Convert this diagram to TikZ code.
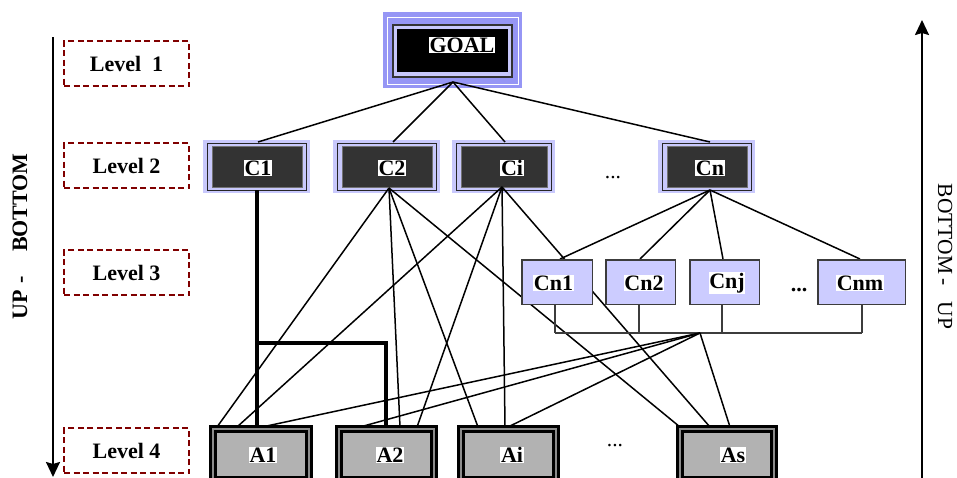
\documentclass[tikz,border=0pt]{standalone}
\usepackage{fontspec}
\setmainfont{Liberation Serif}
\usetikzlibrary{arrows.meta}

\definecolor{goalpurple}{RGB}{150,150,245}
\definecolor{lavsoft}{RGB}{200,200,252}
\definecolor{lavfill}{RGB}{204,204,255}
\definecolor{darkfill}{RGB}{51,51,51}
\definecolor{altgrey}{RGB}{178,178,178}
\definecolor{gapgrey}{RGB}{140,140,140}
\definecolor{levelred}{RGB}{128,0,0}
\definecolor{busgrey}{RGB}{60,60,60}

\tikzset{
  txt/.style={font=\fontsize{22}{26}\selectfont\bfseries, inner sep=0.6pt},
  plain/.style={font=\fontsize{21.5}{26}\selectfont, inner sep=0pt},
  hilite/.style={txt, fill=white},
  levelbox/.style={txt, draw=levelred, line width=2pt, dash pattern=on 6pt off 3.5pt,
    minimum width=125pt, minimum height=45pt, inner sep=0pt},
  link/.style={line width=1.5pt},
  heavy/.style={line width=3.2pt},
  buswire/.style={draw=busgrey, line width=1.4pt},
  sidearrow/.style={line width=2pt, -{Stealth[length=15pt,width=14pt,inset=2pt]}},
  goalbox/.style={inner sep=0pt, outer sep=0pt, minimum width=139pt, minimum height=76pt,
    fill=goalpurple,
    path picture={
      \draw[white, line width=1pt]
        ([xshift=4pt,yshift=-5pt]path picture bounding box.north west) rectangle
        ([xshift=-4pt,yshift=4pt]path picture bounding box.south east);
      \draw[fill=lavsoft, draw=black!80, line width=1.2pt]
        ([xshift=10pt,yshift=-13pt]path picture bounding box.north west) rectangle
        ([xshift=-10pt,yshift=11pt]path picture bounding box.south east);
      \fill[black]
        ([xshift=14pt,yshift=-17pt]path picture bounding box.north west) rectangle
        ([xshift=-14pt,yshift=16pt]path picture bounding box.south east);
    }},
  critbox/.style={inner sep=0pt, outer sep=0pt, minimum height=53pt, fill=lavsoft,
    path picture={
      \draw[black!85, line width=0.8pt]
        ([xshift=4pt,yshift=-3pt]path picture bounding box.north west) rectangle
        ([xshift=-4pt,yshift=3pt]path picture bounding box.south east);
      \draw[fill=darkfill, draw=black!55, line width=0.8pt]
        ([xshift=9pt,yshift=-6pt]path picture bounding box.north west) rectangle
        ([xshift=-8pt,yshift=6pt]path picture bounding box.south east);
    }},
  subbox/.style={inner sep=0pt, outer sep=0pt, minimum height=44.5pt, fill=lavfill,
    draw=busgrey, line width=1.5pt},
  altbox/.style={inner sep=0pt, outer sep=0pt, minimum height=56pt, fill=gapgrey,
    draw=black, line width=3pt,
    path picture={
      \draw[fill=altgrey, line width=3pt]
        ([xshift=5pt,yshift=-5pt]path picture bounding box.north west) rectangle
        ([xshift=-5pt,yshift=5pt]path picture bounding box.south east);
    }},
}

\begin{document}
\begin{tikzpicture}[x=1pt,y=-1pt]
\useasboundingbox (0,0) rectangle (957,477);

% ---- level labels on the left
\node[levelbox] (L1) at (126.5,63.5) {Level~~1};
\node[levelbox] (L2) at (126.5,165.5) {Level 2};
\node[levelbox] (L3) at (126.5,272.5) {Level 3};
\node[levelbox] (L4) at (126.5,450.5) {Level 4};

% ---- direction arrows
\coordinate (downTop) at (53,37);
\coordinate (downEnd) at (53,477);
\draw[sidearrow] (downTop) -- (downEnd);
\node[txt, rotate=90, anchor=base, inner sep=0pt] (topdown) at (27,236.5)
  {UP\hspace{7pt}-\hspace{24pt}BOTTOM};

\coordinate (upStart) at (922,480);
\coordinate (upTop) at (922,20);
\draw[sidearrow] (upStart) -- (upTop);
\node[plain, rotate=-90, anchor=base] (bottomup) at (938,256.5)
  {BOTTOM\hspace{4pt}-\hspace{16pt}UP};

% ---- goal and criteria
\node[goalbox] (goal) at (452.5,50) {};
\node[critbox, minimum width=107pt] (C1) at (256.5,166.5) {};
\node[critbox, minimum width=107pt] (C2) at (386.5,166.5) {};
\node[critbox, minimum width=103pt] (Ci) at (503.5,166.5) {};
\node[critbox, minimum width=97pt]  (Cn) at (706.5,166.5) {};

% attachment points
\coordinate (goalB) at (453,82);
\coordinate (C1top) at (258,142);
\coordinate (C2top) at (393,142);
\coordinate (Citop) at (505,142);
\coordinate (Cntop) at (710,142);
\coordinate (C1bot) at (257,190);
\coordinate (C2bot) at (389,188);
\coordinate (Cibot) at (502,187);
\coordinate (Cnbot) at (710,190);

\coordinate (n1top) at (560,259);
\coordinate (n2top) at (640,259);
\coordinate (njtop) at (723,259);
\coordinate (nmtop) at (860,259);
\coordinate (n1bot) at (555,305);
\coordinate (n2bot) at (639,305);
\coordinate (njbot) at (722,305);
\coordinate (nmbot) at (862,305);
\coordinate (n1bus) at (555,333);
\coordinate (n2bus) at (639,333);
\coordinate (njbus) at (722,333);
\coordinate (nmbus) at (862,333);
\coordinate (busTap) at (700,333);

\coordinate (A1fromC2) at (217,427);
\coordinate (A1fromCi) at (237,427);
\coordinate (A1fromC1) at (257,427);
\coordinate (A1fromBus) at (262,427);
\coordinate (A2fromBus) at (360,427);
\coordinate (A2fromC1) at (386,427);
\coordinate (A2fromC2) at (400,427);
\coordinate (A2fromCi) at (417,427);
\coordinate (AifromC2) at (478,427);
\coordinate (AifromCi) at (505,427);
\coordinate (AifromBus) at (508,427);
\coordinate (AsfromC2) at (680,427);
\coordinate (AsfromCi) at (710,427);
\coordinate (AsfromBus) at (730,427);
\coordinate (c1split) at (257,343);
\coordinate (c1corner) at (386,343);

% goal to criteria
\foreach \t in {C1top,C2top,Citop,Cntop} \draw[link] (goalB) -- (\t);
% Cn to its sub-criteria
\foreach \t in {n1top,n2top,njtop,nmtop} \draw[link] (Cnbot) -- (\t);
% C2 and Ci to alternatives
\foreach \t in {A1fromC2,A2fromC2,AifromC2,AsfromC2} \draw[link] (C2bot) -- (\t);
\foreach \t in {A1fromCi,A2fromCi,AifromCi,AsfromCi} \draw[link] (Cibot) -- (\t);
% sub-criteria bus to alternatives
\draw[buswire] (n1bot) -- (n1bus);
\draw[buswire] (n2bot) -- (n2bus);
\draw[buswire] (njbot) -- (njbus);
\draw[buswire] (nmbot) -- (nmbus);
\draw[buswire] (n1bus) -- (nmbus);
\foreach \t in {A1fromBus,A2fromBus,AifromBus,AsfromBus} \draw[link] (busTap) -- (\t);
% C1 heavy links
\draw[heavy] (C1bot) -- (A1fromC1);
\draw[heavy] (c1split) -- (c1corner) -- (A2fromC1);

% ---- sub-criteria of Cn
\node[subbox, minimum width=70.5pt] (Cn1) at (557,282) {};
\node[subbox, minimum width=69.5pt] (Cn2) at (640.5,282) {};
\node[subbox, minimum width=69.5pt] (Cnj) at (724.5,282) {};
\node[subbox, minimum width=87.5pt] (Cnm) at (861.5,282) {};

% ---- alternatives
\node[altbox, minimum width=101pt] (A1) at (261,454) {};
\node[altbox, minimum width=100pt] (A2) at (386.5,454) {};
\node[altbox, minimum width=100pt] (Ai) at (508.5,454) {};
\node[altbox, minimum width=99pt]  (As) at (727,454) {};

% ---- labels
\node[hilite] (goalT) at (462,45) {GOAL};
\node[hilite] (C1T) at (258,168) {C1};
\node[hilite] (C2T) at (392,168) {C2};
\node[hilite] (CiT) at (512,168) {Ci};
\node[hilite] (CnT) at (710,168) {Cn};
\node[plain, anchor=base] (dots2) at (613,178) {...};

\node[hilite] (Cn1T) at (553.5,283) {Cn1};
\node[hilite] (Cn2T) at (644,283) {Cn2};
\node[hilite] (CnjT) at (727,283) {Cnj};
\node[hilite] (CnmT) at (860,283) {Cnm};
\node[txt, anchor=base, inner sep=0pt] (dots3) at (799,291) {...};

\node[hilite] (A1T) at (263,455) {A1};
\node[hilite] (A2T) at (390,455) {A2};
\node[hilite] (AiT) at (512,455) {Ai};
\node[hilite] (AsT) at (733,455) {As};
\node[plain, anchor=base] (dots4) at (615,446) {...};
\end{tikzpicture}
\end{document}
